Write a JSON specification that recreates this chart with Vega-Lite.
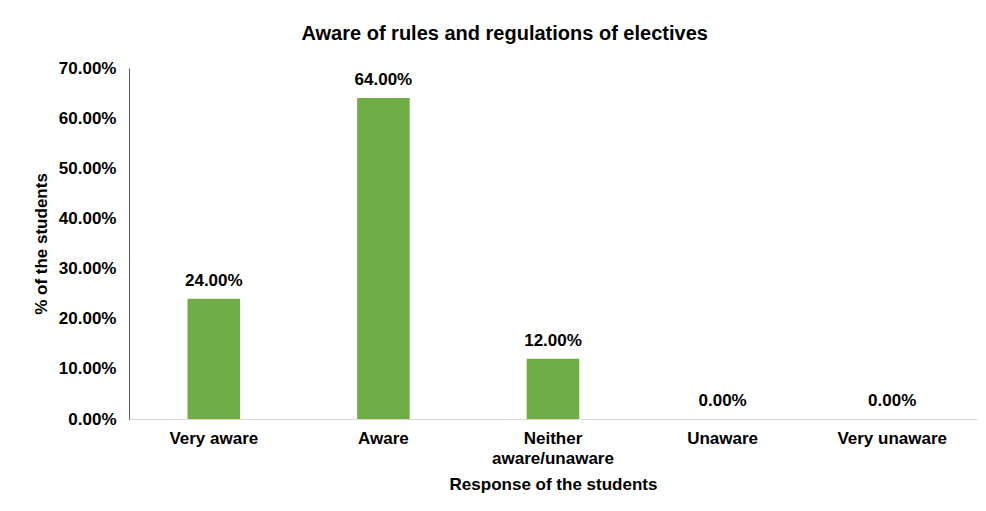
{
  "$schema": "https://vega.github.io/schema/vega-lite/v6.json",
  "width": 848,
  "height": 351,
  "autosize": {"type": "none"},
  "padding": {"left": 129, "top": 68, "right": 9, "bottom": 92},
  "background": "white",
  "config": {
    "font": "Liberation Sans",
    "view": {"stroke": null}
  },
  "title": {
    "text": "Aware of rules and regulations of electives",
    "fontSize": 20,
    "fontWeight": "bold",
    "color": "#000000",
    "anchor": "middle",
    "frame": "bounds",
    "offset": 15
  },
  "data": {
    "values": [
      {"response": "Very aware", "pct": 0.24},
      {"response": "Aware", "pct": 0.64},
      {"response": "Neither aware/unaware", "pct": 0.12},
      {"response": "Unaware", "pct": 0.0},
      {"response": "Very unaware", "pct": 0.0}
    ]
  },
  "encoding": {
    "x": {
      "field": "response",
      "type": "nominal",
      "sort": null,
      "scale": {"paddingInner": 0.69, "paddingOuter": 0.345},
      "axis": {
        "title": "Response of the students",
        "titleFontSize": 17,
        "titleFontWeight": "bold",
        "titleColor": "#000000",
        "titlePadding": 10,
        "labelAngle": 0,
        "labelFontSize": 17,
        "labelFontWeight": "bold",
        "labelColor": "#000000",
        "labelPadding": 11,
        "labelLineHeight": 20,
        "labelExpr": "datum.label == 'Neither aware/unaware' ? ['Neither', 'aware/unaware'] : datum.label",
        "ticks": false,
        "domainColor": "#d9d9d9",
        "domainWidth": 1
      }
    },
    "y": {
      "field": "pct",
      "type": "quantitative",
      "scale": {"domain": [0, 0.7]},
      "axis": {
        "title": "% of the students",
        "titleFontSize": 17,
        "titleFontWeight": "bold",
        "titleColor": "#000000",
        "titlePadding": 8,
        "format": ".2%",
        "values": [0, 0.1, 0.2, 0.3, 0.4, 0.5, 0.6, 0.7],
        "labelFontSize": 17,
        "labelFontWeight": "bold",
        "labelColor": "#000000",
        "labelPadding": 13,
        "ticks": false,
        "grid": false,
        "domainColor": "#595959",
        "domainWidth": 1
      }
    }
  },
  "layer": [
    {"mark": {"type": "bar", "color": "#70AD47"}},
    {
      "mark": {"type": "text", "dy": -18, "fontSize": 17, "fontWeight": "bold", "color": "#000000"},
      "encoding": {"text": {"field": "pct", "type": "quantitative", "format": ".2%"}}
    }
  ]
}
